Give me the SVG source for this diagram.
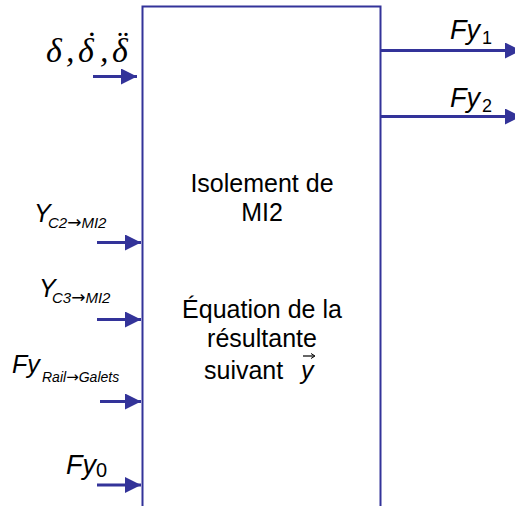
<svg xmlns="http://www.w3.org/2000/svg" width="515" height="506" viewBox="0 0 515 506">
<style>
.ln{stroke:#333399;stroke-width:3;fill:none}
.hd{fill:#333399}
.box{stroke:#333399;stroke-width:2;fill:#fff}
.t{font-family:"Liberation Sans",Arial,sans-serif;fill:#000}
.i{font-style:italic}
.ar{font-family:"DejaVu Sans",sans-serif;font-style:normal}
.m{font-family:"Liberation Serif","Times New Roman",serif;font-style:italic;fill:#000;font-size:34px}
</style>
<defs>
<marker id="ah" viewBox="0 0 16 16" refX="16" refY="8" markerWidth="16" markerHeight="16" markerUnits="userSpaceOnUse" orient="auto">
<path d="M0,0 L16,8 L0,16 Z" class="hd"/>
</marker>
</defs>
<rect width="515" height="506" fill="#fff"/>
<g id="block">
<rect class="box" x="142.5" y="6.5" width="238" height="510"/>
<text class="t" font-size="25" text-anchor="middle" x="262" y="192">Isolement de</text>
<text class="t" font-size="25" text-anchor="middle" x="262" y="221">MI2</text>
<text class="t" font-size="25" text-anchor="middle" x="262" y="318">Équation de la</text>
<text class="t" font-size="25" text-anchor="middle" x="262" y="347">résultante</text>
<text class="t" font-size="25" x="204" y="379">suivant</text>
<text class="t i" font-size="25" x="301" y="379">y</text>
<path d="M303,356 L314,356" stroke="#000" stroke-width="1.2"/>
<path d="M311,353.5 L315,356 L311,358.5" stroke="#000" stroke-width="1" fill="none"/>
</g>
<g id="in-delta">
<text class="m" x="46" y="62">δ</text>
<text class="m" x="66" y="62">,</text>
<text class="m" x="78" y="62">δ</text>
<text class="m" x="84" y="55">˙</text>
<text class="m" x="100" y="62">,</text>
<text class="m" x="112" y="62">δ</text>
<text class="m" x="115" y="55">¨</text>
</g>
<g id="in-yc2">
<text class="t i" font-size="25" x="34" y="222">Y</text>
<text class="t i" font-size="15" x="48" y="228">C2<tspan class="ar" font-size="17">→</tspan>MI2</text>
</g>
<g id="in-yc3">
<text class="t i" font-size="25" x="39" y="297">Y</text>
<text class="t i" font-size="15" x="52" y="303">C3<tspan class="ar" font-size="17">→</tspan>MI2</text>
</g>
<g id="in-fyrail">
<text class="t i" font-size="25" x="12" y="373">Fy</text>
<text class="t i" font-size="14" x="42" y="382">Rail<tspan class="ar" font-size="15">→</tspan>Galets</text>
</g>
<g id="in-fy0">
<text class="t i" font-size="27" x="66" y="474">Fy</text>
<text class="t" font-size="20" x="96" y="477">0</text>
</g>
<g id="out-fy1">
<text class="t i" font-size="27" x="450" y="39">Fy</text>
<text class="t" font-size="18" x="482" y="44">1</text>
</g>
<g id="out-fy2">
<text class="t i" font-size="27" x="450" y="107">Fy</text>
<text class="t" font-size="18" x="482" y="112">2</text>
</g>
<g id="connectors">
<line class="ln" x1="93" y1="76.5" x2="137" y2="76.5" marker-end="url(#ah)"/>
<line class="ln" x1="97" y1="242.5" x2="141" y2="242.5" marker-end="url(#ah)"/>
<line class="ln" x1="97" y1="319.5" x2="141" y2="319.5" marker-end="url(#ah)"/>
<line class="ln" x1="100" y1="401.5" x2="141" y2="401.5" marker-end="url(#ah)"/>
<line class="ln" x1="97" y1="485" x2="141" y2="485" marker-end="url(#ah)"/>
<line class="ln" x1="381" y1="50.5" x2="521" y2="50.5" marker-end="url(#ah)"/>
<line class="ln" x1="381" y1="116.5" x2="521" y2="116.5" marker-end="url(#ah)"/>
</g>
</svg>
